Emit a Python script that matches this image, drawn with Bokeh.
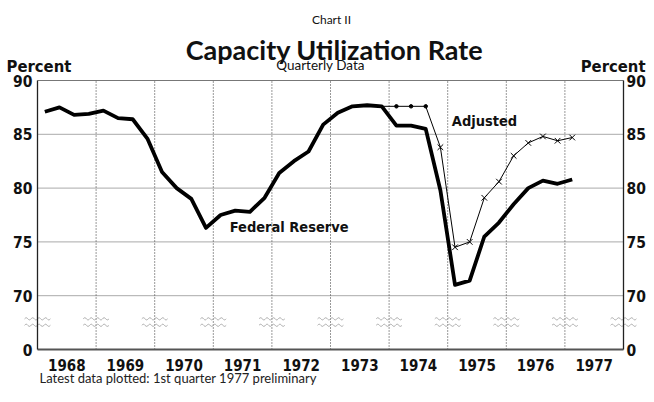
from bokeh.plotting import figure
from bokeh.models import FixedTicker, Range1d, LinearAxis
from bokeh.embed import file_html
from bokeh.resources import INLINE
from bokeh.core.properties import value
import numpy as np

# ---------------- data ----------------
first_year = 1968
years = [1968, 1969, 1970, 1971, 1972, 1973, 1974, 1975, 1976, 1977]
year_labels = ["1968", "1969", "1970", "1971", "1972", "1973", "1974", "1975", "1976", "1977"]

# Federal Reserve capacity utilization, quarterly 1968 Q1 .. 1977 Q1
frb = [87.1, 87.5, 86.8, 86.9,
       87.2, 86.5, 86.4, 84.6,
       81.5, 80.0, 79.0, 76.3,
       77.5, 77.9, 77.8, 79.1,
       81.4, 82.5, 83.4, 85.9,
       87.0, 87.6, 87.7, 87.6,
       85.8, 85.8, 85.5, 79.8,
       71.0, 71.4, 75.5, 76.8,
       78.5, 80.0, 80.7, 80.4,
       80.8]

# Adjusted series, quarterly 1973 Q4 .. 1977 Q1
adj_first_index = 23
adjusted = [87.6, 87.6, 87.6, 87.6, 83.8, 74.5, 75.0, 79.1, 80.6, 83.0, 84.2, 84.8, 84.4, 84.7]

# broken scale: the bottom tick stands for 0
y_ticks = [65, 70, 75, 80, 85, 90]
y_tick_labels = ["0", "70", "75", "80", "85", "90"]
y_grid = [70, 75, 80, 85]

chart_number = "Chart II"
title_text = "Capacity Utilization Rate"
subtitle_text = "Quarterly Data"
unit_text = "Percent"
series_names = ["Federal Reserve", "Adjusted"]
footnote_text = "Latest data plotted: 1st quarter 1977 preliminary"

# ---------------- layout (pixels inside the 646x386 canvas) ----------------
W, H = 646, 386
X0, X1 = 1968.0, 1978.0      # plot box in data units
Y0, Y1 = 65.0, 90.0
PX0, PX1 = 37.0, 623.0       # plot box in canvas pixels
PY_TOP, PY_BOT = 80.0, 349.0

sx = (PX1 - PX0) / (X1 - X0)
sy = (PY_BOT - PY_TOP) / (Y1 - Y0)
x_range = Range1d(X0 - PX0 / sx, X1 + (W - PX1) / sx)
y_range = Range1d(Y0 - (H - PY_BOT) / sy, Y1 + PY_TOP / sy)


def dx(px):  # canvas pixel (from left) -> data x
    return X0 + (px - PX0) / sx


def dy(py):  # canvas pixel (from top) -> data y
    return Y1 - (py - PY_TOP) / sy


def qx(i):
    return first_year + (i + 0.5) / 4.0


frb_x = [qx(i) for i in range(len(frb))]
adj_x = [qx(adj_first_index + i) for i in range(len(adjusted))]

BOLD_FONT = "DejaVu Sans Condensed"
REG_FONT = "Lato"
INK = "#111111"

p = figure(width=W, height=H, x_range=x_range, y_range=y_range,
           output_backend="svg", toolbar_location=None,
           min_border_left=0, min_border_right=0, min_border_top=0, min_border_bottom=0,
           x_axis_location=None, y_axis_location=None)
p.background_fill_color = "white"
p.border_fill_color = "white"
p.outline_line_color = None
p.grid.visible = False

# axes pinned to the plot box edges
left_axis = LinearAxis(fixed_location=X0, bounds=(Y0, Y1))
right_axis = LinearAxis(fixed_location=X1, bounds=(Y0, Y1))
bottom_axis = LinearAxis(fixed_location=Y0, bounds=(X0, X1))
p.add_layout(left_axis, "left")
p.add_layout(right_axis, "right")
p.add_layout(bottom_axis, "below")

for ax in (left_axis, right_axis):
    ax.ticker = FixedTicker(ticks=y_ticks)
    ax.major_label_overrides = {t: l for t, l in zip(y_ticks, y_tick_labels)}
    ax.axis_line_color = "#222222"
    ax.axis_line_width = 1.3
    ax.major_label_text_font_size = "15.5px"
for ax in (left_axis, right_axis, bottom_axis):
    ax.major_tick_in = 0
    ax.major_tick_out = 0
    ax.minor_tick_in = 0
    ax.minor_tick_out = 0
    ax.major_label_text_font = BOLD_FONT
    ax.major_label_text_font_style = "bold"
    ax.major_label_text_color = INK
left_axis.major_label_standoff = 5
right_axis.major_label_standoff = 3

bottom_axis.ticker = FixedTicker(ticks=[y + 0.5 for y in years])
bottom_axis.major_label_overrides = {y + 0.5: l for y, l in zip(years, year_labels)}
bottom_axis.axis_line_color = "#555555"
bottom_axis.axis_line_width = 2
bottom_axis.major_label_standoff = 9
bottom_axis.major_label_text_font_size = "15px"

# grid lines inside the plot box
p.segment(x0=years[1:], y0=[Y0] * (len(years) - 1), x1=years[1:], y1=[Y1] * (len(years) - 1),
          line_color="#333333", line_dash="1 2", line_width=1)
p.segment(x0=[X0] * len(y_grid), y0=y_grid, x1=[X1] * len(y_grid), y1=y_grid,
          line_color="#555555", line_dash="1 1", line_width=1)
p.segment(x0=[X0], y0=[Y1], x1=[X1], y1=[Y1], line_color="#777777", line_width=1)

# axis-break marks at every year boundary
bx, by = [], []
for x0 in years + [years[-1] + 1]:
    xs = np.linspace(x0 - 0.22, x0 + 0.22, 40)
    for base in (67.85, 67.25):
        bx.append(list(xs))
        by.append(list(base + 0.1 * np.sin((xs - x0) * 2 * np.pi / 0.11)))
p.multi_line(bx, by, line_color="#aaaaaa", line_width=1)

# series
p.line(frb_x, frb, line_color="black", line_width=3.8, line_join="round")
p.line(adj_x, adjusted, line_color="black", line_width=1)
p.scatter(adj_x[1:4], adjusted[1:4], marker="circle", size=3.5, color="black")
p.scatter(adj_x[4:], adjusted[4:], marker="x", size=8, line_color="black", line_width=1)


# texts (y given as the visual centre of the capitals)
def txt_data(x, y, s, font, size, style="normal", align="left", color=INK):
    p.text(x=[x], y=[y], text=[s], text_font=value(font), text_font_size=size,
           text_font_style=style, text_align=align, text_baseline="alphabetic", text_color=color)


def txt(px, py, s, font, size, style="normal", align="left", color=INK):
    txt_data(dx(px), dy(py), s, font, size, style, align, color)


txt_data(1971.28, 76.35, series_names[0], BOLD_FONT, "14.5px", "bold")
txt_data(1975.07, 86.2, series_names[1], BOLD_FONT, "14.5px", "bold")
txt(331, 19, chart_number, REG_FONT, "12px", align="center")
txt(334, 49, title_text, REG_FONT, "27px", "bold", align="center")
txt(320, 64, subtitle_text, REG_FONT, "13.5px", align="center")
txt(6, 66, unit_text, BOLD_FONT, "16.5px", "bold")
txt(645, 66, unit_text, BOLD_FONT, "16.5px", "bold", align="right")
txt(39, 377, footnote_text, REG_FONT, "13px", color="#222222")

open("out.html", "w").write(file_html(p, INLINE))
